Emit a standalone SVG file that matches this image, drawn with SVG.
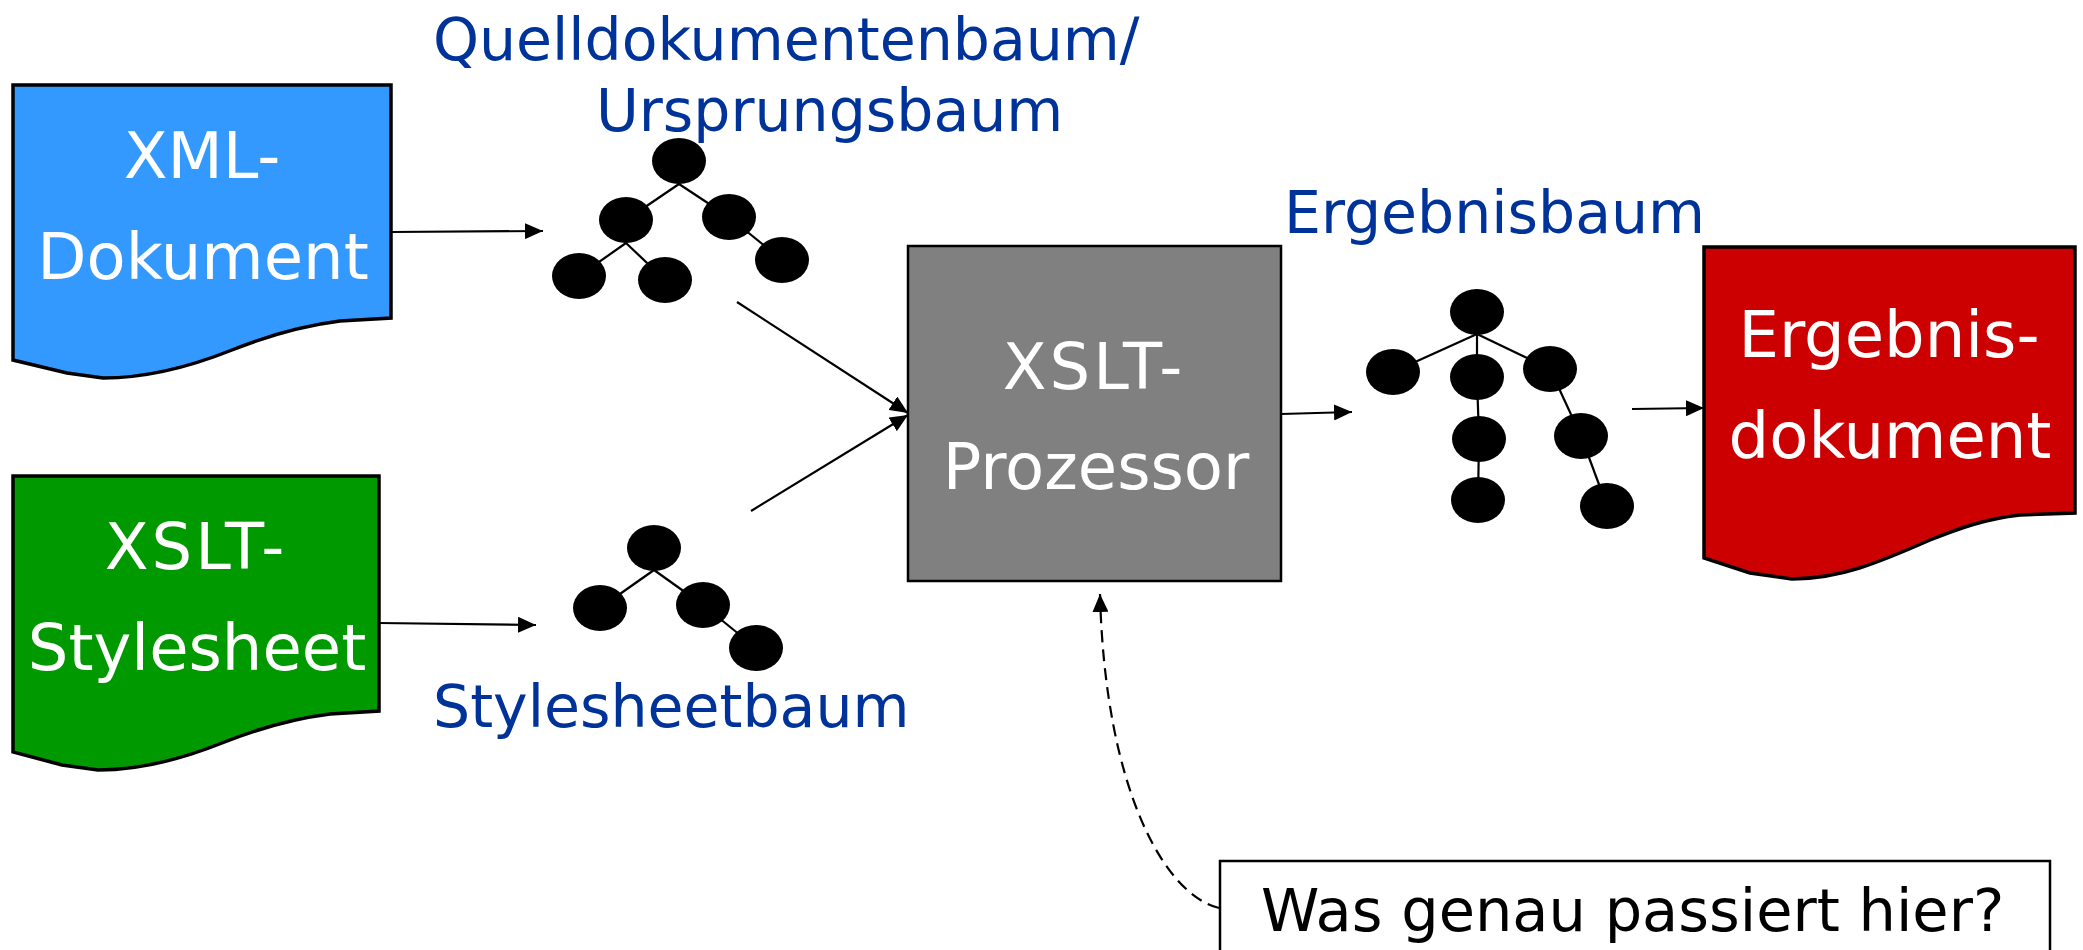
<svg xmlns="http://www.w3.org/2000/svg" width="2083" height="950" viewBox="0 0 2083 950">
<style>
.doc{stroke:#000;stroke-width:3.5;stroke-linejoin:miter}
.wt{font-family:"DejaVu Sans",Verdana,sans-serif;font-size:64px;fill:#fff;text-anchor:middle}
.ls{letter-spacing:3px}
.lbl{font-family:"DejaVu Sans",Verdana,sans-serif;font-size:58.5px;fill:#003399}
.conn{stroke:#000;stroke-width:2.2;fill:none}
.tl{stroke:#000;stroke-width:2.2}
.nd{fill:#000}
</style>
<defs>
<marker id="ah" markerUnits="userSpaceOnUse" viewBox="0 0 18 16" refX="18" refY="8" markerWidth="18" markerHeight="16" orient="auto">
<path d="M0,0 L18,8 L0,16 Z" fill="#000"/>
</marker>
</defs>
<rect width="2083" height="950" fill="#fff"/>

<g id="xml-doc">
<path class="doc" fill="#3399FF" d="M13,85 L391,85 L391,318 L340,321 C300,326 262,338 232,350 C192,366 150,378 103,378 L67,373 L13,360 Z"/>
<text class="wt" x="202" y="178">XML-</text>
<text class="wt" x="203" y="279">Dokument</text>
</g>

<g id="xslt-stylesheet">
<path class="doc" fill="#009900" d="M13,476 L379,476 L379,711 L330,714 C290,719 252,731 222,743 C182,759 142,770 98,770 L62,765 L13,752 Z"/>
<text class="wt ls" x="196" y="569">XSLT-</text>
<text class="wt" x="197" y="670">Stylesheet</text>
</g>

<g id="source-tree">
<text class="lbl" x="433" y="60">Quelldokumentenbaum/</text>
<text class="lbl" x="596" y="131">Ursprungsbaum</text>
<line class="tl" x1="679" y1="184" x2="626" y2="220"/>
<line class="tl" x1="679" y1="184" x2="729" y2="217"/>
<line class="tl" x1="626" y1="243" x2="579" y2="276"/>
<line class="tl" x1="626" y1="243" x2="665" y2="280"/>
<line class="tl" x1="729" y1="217" x2="782" y2="260"/>
<ellipse class="nd" cx="679" cy="161" rx="27" ry="23"/>
<ellipse class="nd" cx="626" cy="220" rx="27" ry="23"/>
<ellipse class="nd" cx="729" cy="217" rx="27" ry="23"/>
<ellipse class="nd" cx="579" cy="276" rx="27" ry="23"/>
<ellipse class="nd" cx="665" cy="280" rx="27" ry="23"/>
<ellipse class="nd" cx="782" cy="260" rx="27" ry="23"/>
</g>

<g id="stylesheet-tree">
<line class="tl" x1="654" y1="570" x2="600" y2="608"/>
<line class="tl" x1="654" y1="570" x2="703" y2="605"/>
<line class="tl" x1="703" y1="605" x2="756" y2="648"/>
<ellipse class="nd" cx="654" cy="548" rx="27" ry="23"/>
<ellipse class="nd" cx="600" cy="608" rx="27" ry="23"/>
<ellipse class="nd" cx="703" cy="605" rx="27" ry="23"/>
<ellipse class="nd" cx="756" cy="648" rx="27" ry="23"/>
<text class="lbl" x="433" y="727">Stylesheetbaum</text>
</g>

<g id="xslt-processor">
<rect x="908" y="246" width="373" height="335" fill="#808080" stroke="#000" stroke-width="2.5"/>
<text class="wt ls" x="1094" y="389">XSLT-</text>
<text class="wt" x="1096" y="489">Prozessor</text>
</g>

<g id="result-tree">
<text class="lbl" x="1284" y="233">Ergebnisbaum</text>
<line class="tl" x1="1477" y1="334" x2="1393" y2="372"/>
<line class="tl" x1="1477" y1="334" x2="1477" y2="377"/>
<line class="tl" x1="1477" y1="334" x2="1550" y2="369"/>
<line class="tl" x1="1477" y1="377" x2="1479" y2="439"/>
<line class="tl" x1="1479" y1="439" x2="1478" y2="500"/>
<line class="tl" x1="1550" y1="369" x2="1581" y2="436"/>
<line class="tl" x1="1581" y1="436" x2="1607" y2="506"/>
<ellipse class="nd" cx="1477" cy="312" rx="27" ry="23"/>
<ellipse class="nd" cx="1393" cy="372" rx="27" ry="23"/>
<ellipse class="nd" cx="1477" cy="377" rx="27" ry="23"/>
<ellipse class="nd" cx="1550" cy="369" rx="27" ry="23"/>
<ellipse class="nd" cx="1479" cy="439" rx="27" ry="23"/>
<ellipse class="nd" cx="1581" cy="436" rx="27" ry="23"/>
<ellipse class="nd" cx="1478" cy="500" rx="27" ry="23"/>
<ellipse class="nd" cx="1607" cy="506" rx="27" ry="23"/>
</g>

<g id="result-doc">
<path class="doc" fill="#CC0000" d="M1704,247 L2075,247 L2075,513 L2020,515 C1985,519 1960,528 1930,540 C1880,562 1840,579 1792,579 L1750,573 L1704,558 Z"/>
<text class="wt" x="1889" y="357">Ergebnis-</text>
<text class="wt" x="1890" y="458">dokument</text>
</g>

<g id="callout">
<rect x="1220" y="861" width="830" height="120" fill="#fff" stroke="#000" stroke-width="2.5"/>
<text x="1261" y="931" font-family="DejaVu Sans, Verdana, sans-serif" font-size="59" fill="#000">Was genau passiert hier?</text>
</g>

<g id="connectors">
<line class="conn" x1="391" y1="232" x2="543" y2="231" marker-end="url(#ah)"/>
<line class="conn" x1="379" y1="623" x2="536" y2="625" marker-end="url(#ah)"/>
<line class="conn" x1="737" y1="302" x2="908" y2="413" marker-end="url(#ah)"/>
<line class="conn" x1="751" y1="511" x2="908" y2="415" marker-end="url(#ah)"/>
<line class="conn" x1="1281" y1="414" x2="1352" y2="412" marker-end="url(#ah)"/>
<line class="conn" x1="1632" y1="409" x2="1704" y2="408" marker-end="url(#ah)"/>
<path class="conn" stroke-dasharray="12 7" d="M1219,908 C1165,895 1105,790 1100,594" marker-end="url(#ah)"/>
</g>
</svg>
